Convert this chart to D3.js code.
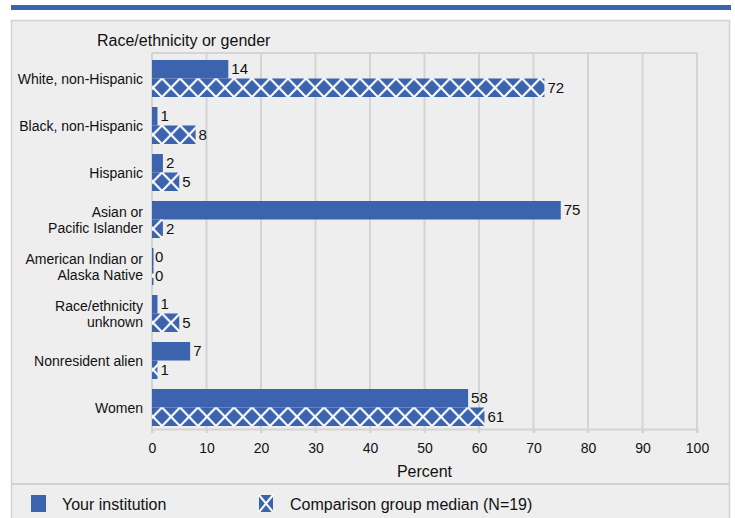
<!DOCTYPE html>
<html><head><meta charset="utf-8">
<script src="https://cdn.jsdelivr.net/npm/d3@7"></script>
<style>body{margin:0;background:#fff;} text{font-family:"Liberation Sans",Arial,sans-serif;fill:#111;}</style>
</head><body>
<svg id="c" width="735" height="518"></svg>
<script>
const categories = [
  ["White, non-Hispanic"],
  ["Black, non-Hispanic"],
  ["Hispanic"],
  ["Asian or", "Pacific Islander"],
  ["American Indian or", "Alaska Native"],
  ["Race/ethnicity", "unknown"],
  ["Nonresident alien"],
  ["Women"]
];
const institution = [14, 1, 2, 75, 0, 1, 7, 58];
const comparison = [72, 8, 5, 2, 0, 5, 1, 61];
const xTicks = [0, 10, 20, 30, 40, 50, 60, 70, 80, 90, 100];
const seriesNames = ["Your institution", "Comparison group median (N=19)"];

const blue = "#3b63ae";
const svg = d3.select("#c");

// pattern
const defs = svg.append("defs");
const P = 18;
const pat = defs.append("pattern").attr("id", "hatch").attr("patternUnits", "userSpaceOnUse")
  .attr("width", P).attr("height", 18.5);
pat.append("rect").attr("width", P).attr("height", 18.5).attr("fill", blue);
pat.append("path").attr("d", `M0,0 L${P},18.5 M${P},0 L0,18.5`).attr("stroke", "#fff").attr("stroke-width", 2.2).attr("fill", "none");

// top band
svg.append("rect").attr("x", 11).attr("y", 5).attr("width", 720).attr("height", 5).attr("fill", blue);
// panel
svg.append("rect").attr("x", 11.5).attr("y", 20.5).attr("width", 718).attr("height", 510)
  .attr("fill", "#eeeeee").attr("stroke", "#d2d2d2").attr("stroke-width", 1.5);
svg.append("line").attr("x1", 11).attr("x2", 730).attr("y1", 484).attr("y2", 484).attr("stroke", "#d2d2d2").attr("stroke-width", 2);

const x = d3.scaleLinear().domain([0, 100]).range([152, 697]);
const y = d3.scaleBand().domain(d3.range(categories.length)).range([55, 431]);
const plotTop = 53, plotBot = 429;

// grid
svg.append("g").selectAll("line").data(xTicks).join("line")
  .attr("x1", d => x(d)).attr("x2", d => x(d)).attr("y1", plotTop).attr("y2", plotBot + 4)
  .attr("stroke", "#d4d4d4").attr("stroke-width", 2);
svg.append("line").attr("x1", x(0)).attr("x2", x(100)).attr("y1", plotTop).attr("y2", plotTop).attr("stroke", "#d4d4d4").attr("stroke-width", 2);

// x axis
const xAxis = svg.append("g").attr("transform", `translate(0,${plotBot})`)
  .call(d3.axisBottom(x).tickValues(xTicks).tickSize(4).tickPadding(10));
xAxis.select(".domain").attr("stroke", "#d4d4d4").attr("stroke-width", 2);
xAxis.selectAll(".tick line").attr("stroke", "#d4d4d4").attr("stroke-width", 2);
xAxis.selectAll("text").attr("font-size", 14).attr("fill", "#111").attr("font-family", "Liberation Sans, Arial, sans-serif");

svg.append("text").attr("x", x(50)).attr("y", 477).attr("text-anchor", "middle").attr("font-size", 16).text("Percent");
svg.append("text").attr("x", 97).attr("y", 46).attr("font-size", 16).text("Race/ethnicity or gender");

const bh = 18.5;
const groups = svg.append("g").selectAll("g").data(categories).join("g")
  .attr("transform", (d, i) => `translate(0,${y(i) + y.bandwidth() / 2})`);

// category labels
groups.each(function (lines) {
  const g = d3.select(this);
  const n = lines.length;
  lines.forEach((t, k) => {
    g.append("text").attr("x", 143).attr("y", (k - (n - 1) / 2) * 16 + 5)
      .attr("text-anchor", "end").attr("font-size", 14).text(t);
  });
});

// institution bars
groups.append("rect").attr("x", x(0)).attr("y", -bh).attr("height", bh)
  .attr("width", (d, i) => Math.max(x(institution[i]) - x(0), 1.5)).attr("fill", blue);
groups.append("text").attr("x", (d, i) => x(institution[i]) + 3).attr("y", -bh / 2 + 5)
  .attr("font-size", 15).text((d, i) => institution[i]);

// comparison bars (pattern aligned to bar top)
groups.append("g").append("rect")
  .attr("x", x(0)).attr("y", 0).attr("height", bh)
  .attr("width", (d, i) => Math.max(x(comparison[i]) - x(0), 1.5)).attr("fill", "url(#hatch)");
groups.append("text").attr("x", (d, i) => x(comparison[i]) + 3).attr("y", bh / 2 + 5)
  .attr("font-size", 15).text((d, i) => comparison[i]);

// legend
const lg = svg.append("g");
lg.append("rect").attr("x", 31).attr("y", 495).attr("width", 15).attr("height", 17).attr("fill", blue);
lg.append("text").attr("x", 62).attr("y", 510).attr("font-size", 16).text(seriesNames[0]);
lg.append("rect").attr("x", 259).attr("y", 495).attr("width", 14).attr("height", 17).attr("fill", blue);
lg.append("path").attr("d", "M259,495 L273,512 M273,495 L259,512").attr("stroke", "#fff").attr("stroke-width", 2);
lg.append("text").attr("x", 290).attr("y", 510).attr("font-size", 16).text(seriesNames[1]);
</script>
</body></html>
